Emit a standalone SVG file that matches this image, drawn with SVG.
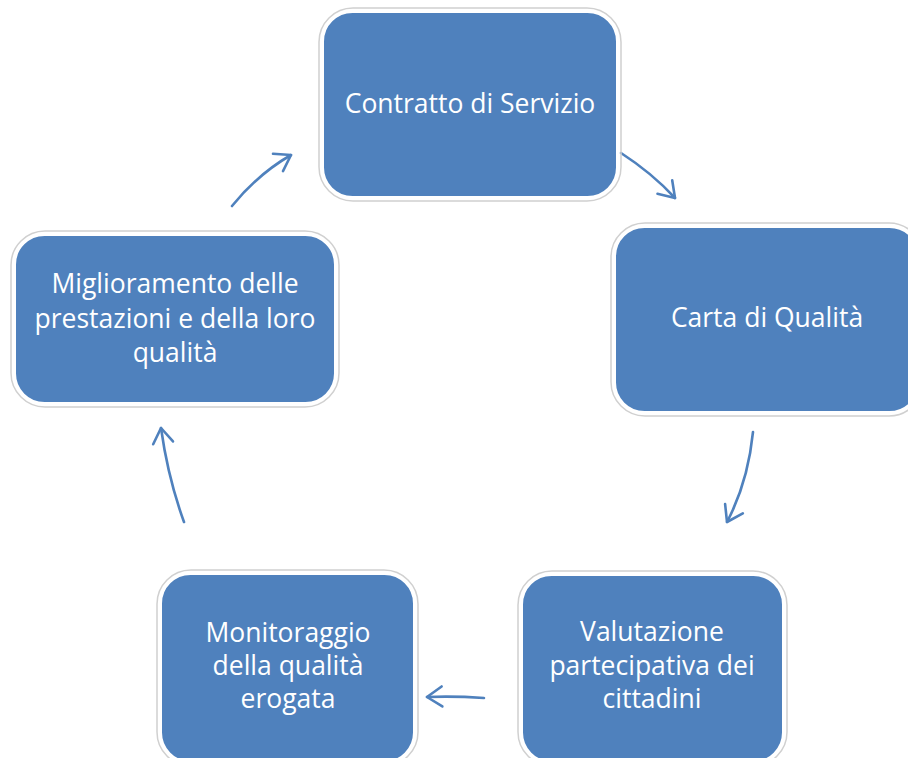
<svg xmlns="http://www.w3.org/2000/svg" width="908" height="758" viewBox="0 0 908 758">
<style>
.box{fill:#4F81BD;stroke:#ffffff;stroke-width:3}
.halo{fill:none;stroke:#d0d0d0;stroke-width:1.5}
.lbl{font-family:"Open Sans","Liberation Sans",sans-serif;font-size:26.5px;fill:#ffffff;text-anchor:middle}
.arr{fill:none;stroke:#4F81BD;stroke-width:2.6;stroke-linecap:round;marker-end:url(#ah)}
</style>
<defs>
<marker id="ah" markerUnits="userSpaceOnUse" markerWidth="30" markerHeight="30" viewBox="-20 -15 25 30" refX="0" refY="0" orient="auto">
<path d="M-15,-10 L0,0 L-15,10" fill="none" stroke="#4F81BD" stroke-width="2.6" stroke-linecap="round" stroke-linejoin="round"/>
</marker>
</defs>
<rect width="908" height="758" fill="#ffffff"/>
<g id="connectors">
<path class="arr" d="M621,153 Q652,173 675,198"/>
<path class="arr" d="M753,432 Q748,482 727,522"/>
<path class="arr" d="M484,698 Q455,696 427,697"/>
<path class="arr" d="M184,522 Q168,478 161,428"/>
<path class="arr" d="M232,206 Q258,174 291,155"/>
</g>
<g id="n1">
<rect class="halo" x="319" y="8" width="302" height="193" rx="34"/>
<rect class="box" x="322.5" y="11.5" width="295" height="186" rx="30"/>
<text class="lbl" x="470" y="113">Contratto di Servizio</text>
</g>
<g id="n2">
<rect class="halo" x="611" y="223" width="312" height="193" rx="34"/>
<rect class="box" x="614.5" y="226.5" width="305" height="186" rx="30"/>
<text class="lbl" x="767" y="327">Carta di Qualità</text>
</g>
<g id="n3">
<rect class="halo" x="518" y="571" width="269" height="195" rx="34"/>
<rect class="box" x="521.5" y="574.5" width="262" height="188" rx="30"/>
<text class="lbl" x="652" y="641">Valutazione</text>
<text class="lbl" x="652" y="674.5">partecipativa dei</text>
<text class="lbl" x="652" y="708">cittadini</text>
</g>
<g id="n4">
<rect class="halo" x="157" y="570" width="261" height="196" rx="34"/>
<rect class="box" x="160.5" y="573.5" width="254" height="189" rx="30"/>
<text class="lbl" x="288" y="642">Monitoraggio</text>
<text class="lbl" x="288" y="675">della qualità</text>
<text class="lbl" x="288" y="708">erogata</text>
</g>
<g id="n5">
<rect class="halo" x="11" y="231" width="328" height="176" rx="34"/>
<rect class="box" x="14.5" y="234.5" width="321" height="169" rx="30"/>
<text class="lbl" x="175" y="293">Miglioramento delle</text>
<text class="lbl" x="175" y="328">prestazioni e della loro</text>
<text class="lbl" x="175" y="362">qualità</text>
</g>
</svg>
